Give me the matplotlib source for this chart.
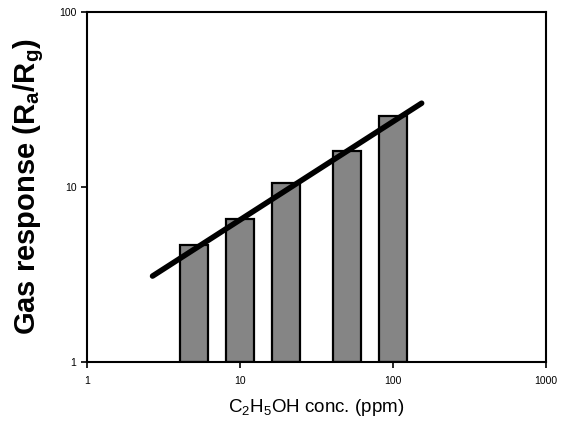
import numpy as np
import matplotlib.pyplot as plt
from matplotlib.ticker import FixedLocator, FixedFormatter, NullLocator

plt.rcParams['font.family'] = ['Liberation Sans', 'DejaVu Sans']
plt.rcParams['mathtext.fontset'] = 'custom'
plt.rcParams['mathtext.rm'] = 'Liberation Sans'
plt.rcParams['mathtext.it'] = 'Liberation Sans'
plt.rcParams['mathtext.bf'] = 'Liberation Sans:bold'

# data
conc = [5, 10, 20, 50, 100]                 # ppm
response = [4.66, 6.56, 10.5, 16.1, 25.5]   # Ra/Rg
fit_x = [2.69, 154]
fit_y = [3.10, 30.1]

x_ticks = [1, 10, 100, 1000]
x_labels = ['1', '10', '100', '1000']
y_ticks = [1, 10, 100]
y_labels = ['1', '10', '100']

fig = plt.figure(figsize=(5.67, 4.25), dpi=100)
ax = fig.add_axes([0.153, 0.148, 0.810, 0.824])
ax.set_xscale('log')
ax.set_yscale('log')

# bars have constant width in log space
half = 0.092
c = np.array(conc, dtype=float)
left = c * 10 ** (-half)
width = c * 10 ** half - left
ax.bar(left, np.array(response) - 1, width=width, bottom=1, align='edge',
       color='#858585', edgecolor='black', linewidth=1.6, zorder=2)

ax.plot(fit_x, fit_y, color='black', lw=4, solid_capstyle='round', zorder=3)

ax.set_xlim(1, 1000)
ax.set_ylim(1, 100)
ax.xaxis.set_major_locator(FixedLocator(x_ticks))
ax.xaxis.set_major_formatter(FixedFormatter(x_labels))
ax.yaxis.set_major_locator(FixedLocator(y_ticks))
ax.yaxis.set_major_formatter(FixedFormatter(y_labels))
ax.xaxis.set_minor_locator(NullLocator())
ax.yaxis.set_minor_locator(NullLocator())
ax.tick_params(direction='out', length=4, width=1.2, labelsize=7.5)
ax.tick_params(axis='x', pad=6)
for s in ax.spines.values():
    s.set_linewidth(1.5)

ax.set_xlabel(r'C$_2$H$_5$OH conc. (ppm)', fontsize=13.5, labelpad=8)
ax.set_ylabel(r'Gas response (R$_\mathbf{a}$/R$_\mathbf{g}$)', fontsize=21,
              fontweight='bold', labelpad=9)

fig.savefig('out.png', dpi=100)
